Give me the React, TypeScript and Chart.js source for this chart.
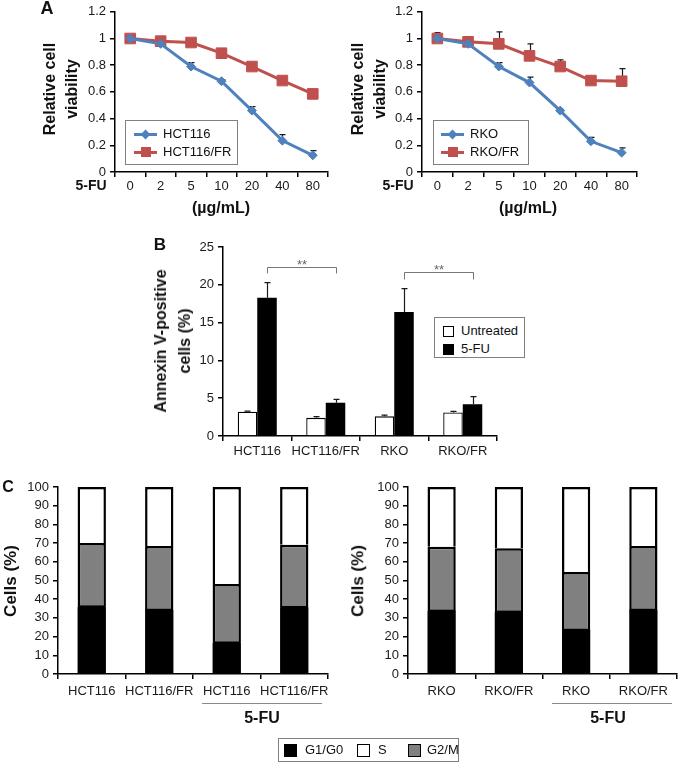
import React, { useEffect, useRef } from "react";
import { Chart, registerables } from "chart.js";
Chart.register(...registerables);

const FONT = "'Liberation Sans', Arial, Helvetica, sans-serif";
Chart.defaults.font.family = FONT;

// ---------- Panel A : viability ----------
const doseLabels = ["0", "2", "5", "10", "20", "40", "80"];
const hct116Viability = [1.0, 0.96, 0.79, 0.68, 0.46, 0.235, 0.125];
const hct116Err = [0.005, 0.01, 0.03, 0.01, 0.03, 0.045, 0.035];
const hct116frViability = [1.0, 0.98, 0.97, 0.89, 0.79, 0.685, 0.585];
const hct116frErr = [0.01, 0.01, 0.01, 0.01, 0.03, 0.01, 0.03];
const rkoViability = [1.0, 0.96, 0.79, 0.67, 0.46, 0.23, 0.145];
const rkoErr = [0.01, 0.01, 0.03, 0.04, 0.01, 0.03, 0.035];
const rkofrViability = [1.0, 0.975, 0.96, 0.87, 0.79, 0.685, 0.68];
const rkofrErr = [0.045, 0.01, 0.09, 0.09, 0.05, 0.01, 0.095];

// ---------- Panel B : apoptosis ----------
const apoptosisGroups = ["HCT116", "HCT116/FR", "RKO", "RKO/FR"];
const untreatedPct = [3.2, 2.4, 2.6, 3.1];
const untreatedErr = [0.1, 0.15, 0.15, 0.15];
const fuPct = [18.3, 4.4, 16.4, 4.2];
const fuErr = [2.0, 0.45, 3.1, 1.0];
const sigLeftTop = 22.35;
const sigLeftFoot = 21.5;
const sigRightTop = 21.7;
const sigRightFoot = 20.7;

// ---------- Panel C : cell cycle ----------
const cycleLabelsHCT = ["HCT116", "HCT116/FR", "HCT116", "HCT116/FR"];
const hctG1 = [36, 34.2, 16.7, 35.7];
const hctG2M = [34, 34.2, 31.4, 33.4];
const hctS = [30, 31.6, 51.9, 30.9];
const cycleLabelsRKO = ["RKO", "RKO/FR", "RKO", "RKO/FR"];
const rkoG1 = [33.7, 33.2, 23.5, 34.2];
const rkoG2M = [34.4, 34.0, 31.0, 34.2];
const rkoS = [31.9, 32.8, 45.5, 31.6];

const BLUE = "#4F81BD";
const RED = "#C0504D";
const GRAY = "#808080";
const TICK = "#1a1a1a";

function catAxis(pad: number, h: number, stacked = false) {
  return {
    type: "category",
    offset: true,
    stacked,
    grid: { offset: true, drawOnChartArea: false, drawTicks: true, tickLength: 5, color: "#000", lineWidth: 1.5 },
    border: { display: true, color: "#000", width: 1.5 },
    ticks: { color: TICK, font: { size: 13, family: FONT }, padding: pad, autoSkip: false, maxRotation: 0 },
    afterFit: (s: any) => { s.height = h; },
  };
}

function valAxis(min: number, max: number, step: number, w: number, stacked = false) {
  return {
    min,
    max,
    stacked,
    grid: { drawOnChartArea: false, drawTicks: true, tickLength: 5, color: "#000", lineWidth: 1.5 },
    border: { display: true, color: "#000", width: 1.5 },
    ticks: {
      stepSize: step, color: TICK, font: { size: 13, family: FONT }, padding: 4,
      callback: (v: any) => String(parseFloat(Number(v).toFixed(3))),
    },
    afterFit: (s: any) => { s.width = w; },
  };
}

function errorBarPlugin(id: string, errs: (number[] | null)[], behind: boolean) {
  const draw = (chart: any) => {
    const ctx = chart.ctx;
    const ys = chart.scales.y;
    ctx.save();
    ctx.strokeStyle = "#1a1a1a";
    ctx.lineWidth = 1.2;
    chart.data.datasets.forEach((ds: any, i: number) => {
      const e = errs[i];
      if (!e) return;
      const meta = chart.getDatasetMeta(i);
      meta.data.forEach((el: any, j: number) => {
        const v = ds.data[j];
        const x = Math.round(el.x) + 0.5;
        const y0 = ys.getPixelForValue(v);
        const y1 = ys.getPixelForValue(v + e[j]);
        ctx.beginPath();
        ctx.moveTo(x, y0);
        ctx.lineTo(x, y1);
        ctx.moveTo(x - 3, y1);
        ctx.lineTo(x + 3, y1);
        ctx.stroke();
      });
    });
    ctx.restore();
  };
  return behind ? { id, beforeDatasetsDraw: draw } : { id, afterDatasetsDraw: draw };
}

// Draws the black boundary at the top of the bottom (G1/G0) segment (hides anti-aliasing seams)
const segmentEdgePlugin = {
  id: "segEdges",
  afterDatasetsDraw(chart: any) {
    const ctx = chart.ctx;
    ctx.save();
    ctx.strokeStyle = "#000";
    ctx.lineWidth = 2.5;
    chart.getDatasetMeta(0).data.forEach((el: any) => {
      ctx.beginPath();
      ctx.moveTo(el.x - el.width / 2 + 0.5, el.y);
      ctx.lineTo(el.x + el.width / 2 - 0.5, el.y);
      ctx.stroke();
    });
    ctx.restore();
  },
};

type Bracket = { a: [number, number]; b: [number, number]; top: number; foot: number; label: string };
function bracketPlugin(brackets: Bracket[]) {
  return {
    id: "brackets",
    afterDatasetsDraw(chart: any) {
      const ctx = chart.ctx;
      const ys = chart.scales.y;
      ctx.save();
      ctx.strokeStyle = "#777";
      ctx.lineWidth = 1;
      ctx.fillStyle = "#666";
      ctx.font = `13px ${FONT}`;
      ctx.textAlign = "center";
      ctx.textBaseline = "alphabetic";
      brackets.forEach((b) => {
        const xa = Math.round(chart.getDatasetMeta(b.a[0]).data[b.a[1]].x) + 0.5;
        const xb = Math.round(chart.getDatasetMeta(b.b[0]).data[b.b[1]].x) + 0.5;
        const yt = Math.round(ys.getPixelForValue(b.top)) + 0.5;
        const yf = ys.getPixelForValue(b.foot);
        ctx.beginPath();
        ctx.moveTo(xa, yf);
        ctx.lineTo(xa, yt);
        ctx.lineTo(xb, yt);
        ctx.lineTo(xb, yf);
        ctx.stroke();
        ctx.fillText(b.label, (xa + xb) / 2, yt + 1);
      });
      ctx.restore();
    },
  };
}

function ChartCanvas(props: { left: number; top: number; width: number; height: number; make: () => any }) {
  const ref = useRef<HTMLCanvasElement | null>(null);
  useEffect(() => {
    const chart = new Chart(ref.current as HTMLCanvasElement, props.make());
    return () => chart.destroy();
  }, []);
  return (
    <canvas
      ref={ref}
      width={props.width}
      height={props.height}
      style={{ position: "absolute", left: props.left, top: props.top, width: props.width, height: props.height }}
    />
  );
}

const basePlugins = { legend: { display: false }, tooltip: { enabled: false }, title: { display: false } };

function viabilityConfig(a: number[], aErr: number[], b: number[], bErr: number[], yW: number, padRight: number) {
  return {
    type: "line",
    data: {
      labels: doseLabels,
      datasets: [
        {
          data: a, borderColor: BLUE, backgroundColor: BLUE, borderWidth: 3,
          pointStyle: "rectRot", pointRadius: 4.5, pointBorderWidth: 1, pointBorderColor: BLUE, tension: 0,
        },
        {
          data: b, borderColor: RED, backgroundColor: RED, borderWidth: 3,
          pointStyle: "rect", pointRadius: 7.5, pointBorderWidth: 1, pointBorderColor: RED, tension: 0,
        },
      ],
    },
    options: {
      responsive: false, animation: false, events: [], devicePixelRatio: 1,
      layout: { padding: { top: 10, right: padRight, left: 0, bottom: 0 } },
      plugins: basePlugins,
      scales: { x: catAxis(2, 53), y: valAxis(0, 1.2, 0.2, yW) },
    },
    plugins: [errorBarPlugin("eb", [aErr, bErr], true)],
  };
}

function apoptosisConfig() {
  return {
    type: "bar",
    data: {
      labels: apoptosisGroups,
      datasets: [
        { data: untreatedPct, backgroundColor: "#fff", borderColor: "#000", borderWidth: 1.3, borderSkipped: "start", categoryPercentage: 0.57, barPercentage: 1 },
        { data: fuPct, backgroundColor: "#000", borderColor: "#000", borderWidth: 0, categoryPercentage: 0.57, barPercentage: 1 },
      ],
    },
    options: {
      responsive: false, animation: false, events: [], devicePixelRatio: 1,
      layout: { padding: { top: 22, right: 33, left: 0, bottom: 0 } },
      plugins: basePlugins,
      scales: { x: catAxis(3, 24), y: valAxis(0, 25, 5, 73) },
    },
    plugins: [
      errorBarPlugin("eb", [untreatedErr, fuErr], false),
      bracketPlugin([
        { a: [1, 0], b: [1, 1], top: sigLeftTop, foot: sigLeftFoot, label: "**" },
        { a: [1, 2], b: [1, 3], top: sigRightTop, foot: sigRightFoot, label: "**" },
      ]),
    ],
  };
}

function cycleConfig(labels: string[], g1: number[], g2m: number[], s: number[], yW: number, padRight: number) {
  const common = { borderColor: "#000", borderWidth: 2.5, borderSkipped: "start", categoryPercentage: 1, barPercentage: 0.42 };
  return {
    type: "bar",
    data: {
      labels,
      datasets: [
        { label: "G1/G0", data: g1, backgroundColor: "#000", ...common, borderWidth: 0 },
        { label: "G2/M", data: g2m, backgroundColor: GRAY, ...common },
        { label: "S", data: s, backgroundColor: "#fff", ...common },
      ],
    },
    options: {
      responsive: false, animation: false, events: [], devicePixelRatio: 1,
      layout: { padding: { top: 17, right: padRight, left: 0, bottom: 0 } },
      plugins: basePlugins,
      scales: { x: catAxis(5, 36, true), y: valAxis(0, 100, 10, yW, true) },
    },
    plugins: [segmentEdgePlugin],
  };
}

function Txt(props: { x: number; y: number; text: string; size?: number; bold?: boolean; rotate?: boolean; lh?: number; color?: string }) {
  const { x, y, text, size = 13, bold = false, rotate = false, lh = 1.15, color = "#111" } = props;
  return (
    <div
      style={{
        position: "absolute", left: x, top: y,
        transform: rotate ? "translate(-50%,-50%) rotate(-90deg)" : "translate(-50%,-50%)",
        fontSize: size, fontWeight: bold ? 700 : 400, lineHeight: typeof lh === "number" && lh > 3 ? `${lh}px` : lh,
        whiteSpace: "pre", textAlign: "center", color, fontFamily: FONT,
      }}
    >
      {text}
    </div>
  );
}

function LineLegend(props: { left: number; top: number; width: number; lineX: number; textX: number; names: string[] }) {
  const { left, top, width, lineX, textX, names } = props;
  const rows = [13, 31];
  return (
    <div style={{ position: "absolute", left, top, width, height: 45, border: "1px solid #808080", boxSizing: "border-box", background: "#fff" }}>
      {names.map((n, i) => (
        <React.Fragment key={n}>
          <div style={{ position: "absolute", left: lineX, top: rows[i] - 1.5, width: 23, height: 3, background: i === 0 ? BLUE : RED }} />
          {i === 0 ? (
            <div style={{ position: "absolute", left: lineX + 11.5 - 3.5, top: rows[i] - 3.5, width: 7, height: 7, background: BLUE, transform: "rotate(45deg)" }} />
          ) : (
            <div style={{ position: "absolute", left: lineX + 11.5 - 5, top: rows[i] - 5, width: 10, height: 10, background: RED }} />
          )}
          <div style={{ position: "absolute", left: textX, top: rows[i], transform: "translateY(-50%)", fontSize: 13, lineHeight: 1.15, whiteSpace: "nowrap", color: "#111" }}>{n}</div>
        </React.Fragment>
      ))}
    </div>
  );
}

function SwatchItem(props: { x: number; y: number; fill: string; size: number; textX: number; text: string }) {
  return (
    <>
      <div style={{ position: "absolute", left: props.x, top: props.y - props.size / 2, width: props.size, height: props.size, background: props.fill, border: "1px solid #000", boxSizing: "border-box" }} />
      <div style={{ position: "absolute", left: props.textX, top: props.y, transform: "translateY(-50%)", fontSize: 13, lineHeight: 1.15, whiteSpace: "nowrap", color: "#111" }}>{props.text}</div>
    </>
  );
}

export default function App() {
  useEffect(() => {
    document.body.style.margin = "0";
  }, []);
  return (
    <div style={{ position: "absolute", left: 0, top: 0, width: 679, height: 763, overflow: "hidden", background: "#fff", fontFamily: FONT }}>
      <ChartCanvas left={0} top={0} width={340} height={225} make={() => viabilityConfig(hct116Viability, hct116Err, hct116frViability, hct116frErr, 115, 12)} />
      <ChartCanvas left={340} top={0} width={339} height={225} make={() => viabilityConfig(rkoViability, rkoErr, rkofrViability, rkofrErr, 82, 42)} />
      <ChartCanvas left={150} top={225} width={380} height={235} make={apoptosisConfig} />
      <ChartCanvas left={0} top={470} width={340} height={240} make={() => cycleConfig(cycleLabelsHCT, hctG1, hctG2M, hctS, 58, 12)} />
      <ChartCanvas left={340} top={470} width={339} height={240} make={() => cycleConfig(cycleLabelsRKO, rkoG1, rkoG2M, rkoS, 68, 2)} />

      {/* Panel letters */}
      <Txt x={47} y={8} text="A" size={18} bold />
      <Txt x={160} y={245} text="B" size={17} bold />
      <Txt x={8} y={487} text="C" size={16} bold />

      {/* Panel A texts */}
      <Txt x={61} y={89} text={"Relative cell\nviability"} size={16} bold rotate lh={22} />
      <Txt x={368.5} y={89} text={"Relative cell\nviability"} size={16} bold rotate lh={22} />
      <Txt x={91} y={185} text="5-FU" size={14} bold />
      <Txt x={398} y={185} text="5-FU" size={14} bold />
      <Txt x={221} y={208} text="(µg/mL)" size={16} bold />
      <Txt x={528} y={208} text="(µg/mL)" size={16} bold />
      <LineLegend left={125} top={120} width={113} lineX={8} textX={37} names={["HCT116", "HCT116/FR"]} />
      <LineLegend left={433} top={120} width={96} lineX={7} textX={36} names={["RKO", "RKO/FR"]} />

      {/* Panel B texts */}
      <Txt x={172.5} y={341} text={"Annexin V-positive\ncells (%)"} size={16} bold rotate lh={24} />
      <div style={{ position: "absolute", left: 434, top: 317, width: 91, height: 41, border: "1px solid #808080", boxSizing: "border-box", background: "#fff" }}>
        <SwatchItem x={8} y={13} fill="#fff" size={11} textX={26} text="Untreated" />
        <SwatchItem x={8} y={31} fill="#000" size={11} textX={26} text="5-FU" />
      </div>

      {/* Panel C texts */}
      <Txt x={11} y={581} text="Cells (%)" size={17} bold rotate />
      <Txt x={358} y={581} text="Cells (%)" size={17} bold rotate />
      <div style={{ position: "absolute", left: 202, top: 703, width: 120, height: 1, background: "#8a8a8a" }} />
      <div style={{ position: "absolute", left: 552, top: 703, width: 120, height: 1, background: "#8a8a8a" }} />
      <Txt x={262} y={718} text="5-FU" size={16} bold />
      <Txt x={608} y={718} text="5-FU" size={16} bold />
      <div style={{ position: "absolute", left: 278, top: 738, width: 181, height: 24, border: "1px solid #808080", boxSizing: "border-box", background: "#fff" }}>
        <SwatchItem x={5} y={11} fill="#000" size={13} textX={26} text="G1/G0" />
        <SwatchItem x={78} y={11} fill="#fff" size={13} textX={99} text="S" />
        <SwatchItem x={129} y={11} fill={GRAY} size={13} textX={148} text="G2/M" />
      </div>
    </div>
  );
}
